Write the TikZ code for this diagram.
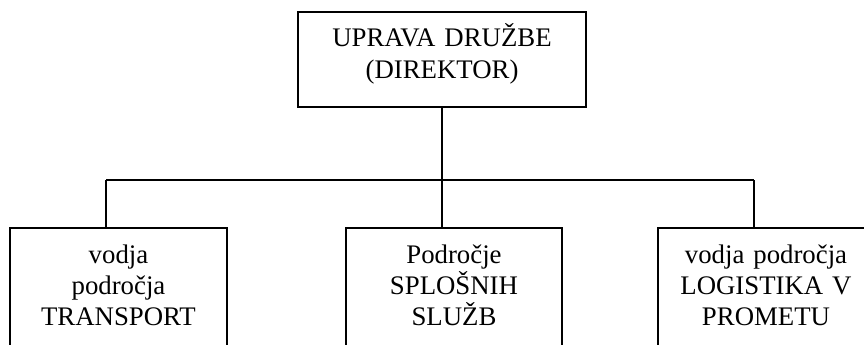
\documentclass[tikz,border=0pt]{standalone}
\usepackage{fontspec}
\setmainfont{Liberation Serif}
\begin{document}
\begin{tikzpicture}[x=1pt,y=-1pt,
  box/.style={draw=black,line width=1.5pt,rectangle,inner sep=0pt},
  txt/.style={inner sep=0pt,text width=212pt,align=center,anchor=base},
  conn/.style={draw=black,line width=1.5pt}]
\clip (0,0) rectangle (864,345);
% boxes
\node[box,minimum width=288pt,minimum height=95pt] (top) at (442,59.5) {};
\node[box,minimum width=217pt,minimum height=150pt] (lbox) at (118.5,303) {};
\node[box,minimum width=216pt,minimum height=150pt] (mbox) at (454,303) {};
\node[box,minimum width=216pt,minimum height=150pt] (rbox) at (766,303) {};
% texts
\node[txt,text width=280pt,font=\fontsize{26.8}{31.6}\selectfont] (ttop) at (442,46.7) {UPRAVA DRUŽBE\\(DIREKTOR)};
\node[txt,font=\fontsize{26.8}{30.8}\selectfont] (tl) at (118.5,263.5) {vodja\\področja\\TRANSPORT};
\node[txt,font=\fontsize{26.8}{30.8}\selectfont] (tm) at (454,263.5) {Področje\\SPLOŠNIH\\SLUŽB};
\node[txt,font=\fontsize{26.8}{30.8}\selectfont] (tr) at (766,263.5) {vodja področja\\LOGISTIKA V\\PROMETU};
% connectors
\coordinate (jL) at (106,180);
\coordinate (jR) at (754,180);
\coordinate (jM) at (top.south |- jL);
\draw[conn] (top.south) -- (jM);
\draw[conn] (jL) -- (jR);
\draw[conn] (jL) -- (jL |- lbox.north);
\draw[conn] (jM) -- (jM |- mbox.north);
\draw[conn] (jR) -- (jR |- rbox.north);
\end{tikzpicture}
\end{document}
